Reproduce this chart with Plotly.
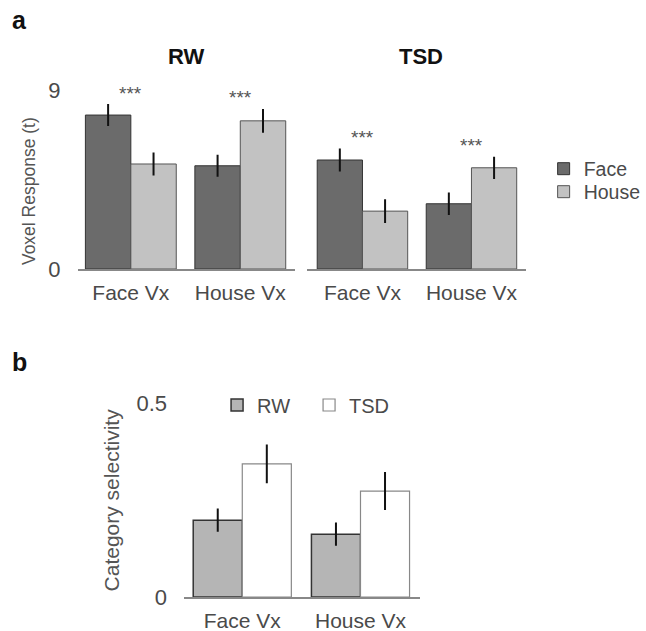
import plotly.graph_objects as go

# ---------------- data ----------------
vx_categories = ["Face Vx", "House Vx"]

# panel a: RW condition
rw_face = [7.74, 5.19]
rw_face_err = [0.55, 0.55]
rw_house = [5.28, 7.45]
rw_house_err = [0.58, 0.60]

# panel a: TSD condition
tsd_face = [5.48, 3.28]
tsd_face_err = [0.58, 0.57]
tsd_house = [2.91, 5.09]
tsd_house_err = [0.60, 0.56]

# panel b: category selectivity
sel_rw = [0.198, 0.162]
sel_rw_err = [0.030, 0.030]
sel_tsd = [0.343, 0.273]
sel_tsd_err = [0.050, 0.049]

a_ticks = [0, 9]
b_ticks = [0, 0.5]
b_tick_text = ["0", "0.5"]

# ---------------- style ----------------
W, H = 646, 631
FONT = "Liberation Sans, Arial, sans-serif"
DARK = "#6b6b6b"
LIGHT = "#c2c2c2"
B_GRAY = "#b5b5b5"
TXT = "#4a4a4a"


def fx(px):
    return px / W


def fy(py):
    return 1 - py / H


def err(vals):
    return dict(type="data", array=vals, visible=True, color="#111111", thickness=2, width=0)


fig = go.Figure()

# Panel a, RW
fig.add_trace(go.Bar(x=vx_categories, y=rw_face, error_y=err(rw_face_err), name="Face",
                     marker=dict(color=DARK, line=dict(color="#333333", width=1)),
                     xaxis="x", yaxis="y", legend="legend", legendgroup="face"))
fig.add_trace(go.Bar(x=vx_categories, y=rw_house, error_y=err(rw_house_err), name="House",
                     marker=dict(color=LIGHT, line=dict(color="#555555", width=1)),
                     xaxis="x", yaxis="y", legend="legend3", legendgroup="house"))
# Panel a, TSD
fig.add_trace(go.Bar(x=vx_categories, y=tsd_face, error_y=err(tsd_face_err), name="Face",
                     marker=dict(color=DARK, line=dict(color="#333333", width=1)),
                     xaxis="x2", yaxis="y2", showlegend=False, legendgroup="face"))
fig.add_trace(go.Bar(x=vx_categories, y=tsd_house, error_y=err(tsd_house_err), name="House",
                     marker=dict(color=LIGHT, line=dict(color="#555555", width=1)),
                     xaxis="x2", yaxis="y2", showlegend=False, legendgroup="house"))
# Panel b
fig.add_trace(go.Bar(x=vx_categories, y=sel_rw, error_y=err(sel_rw_err), name="RW",
                     marker=dict(color=B_GRAY, line=dict(color="#333333", width=1.5)),
                     xaxis="x3", yaxis="y3", legend="legend2"))
fig.add_trace(go.Bar(x=vx_categories, y=sel_tsd, error_y=err(sel_tsd_err), name="TSD",
                     marker=dict(color="#ffffff", line=dict(color="#888888", width=1.2)),
                     xaxis="x3", yaxis="y3", legend="legend2"))

xcommon = dict(type="category", showline=True, linecolor="#888888", linewidth=1.5,
               showgrid=False, zeroline=False, ticks="", fixedrange=True, automargin=False,
               ticklabelstandoff=4, tickfont=dict(family=FONT, size=21, color=TXT))
ycommon = dict(showline=False, showgrid=False, zeroline=False, fixedrange=True,
               automargin=False, tickfont=dict(family=FONT, size=22, color=TXT))

legend_font_a = dict(family=FONT, size=19.5, color=TXT)

fig.update_layout(
    template="none",
    width=W, height=H, autosize=False,
    margin=dict(l=0, r=0, t=0, b=0, pad=0),
    paper_bgcolor="white", plot_bgcolor="white",
    barmode="group", bargap=0.17, bargroupgap=0,
    font=dict(family=FONT, color=TXT),
    xaxis=dict(domain=[fx(80), fx(304)], range=[-0.487, 1.496], anchor="y", **xcommon),
    xaxis2=dict(domain=[fx(317), fx(543)], range=[-0.507, 1.502], anchor="y2", **xcommon),
    xaxis3=dict(domain=[fx(190), fx(433)], range=[-0.492, 1.5], anchor="y3", **xcommon),
    yaxis=dict(domain=[fy(269), fy(90)], range=[0, 9], tickvals=a_ticks,
               ticklabelstandoff=16, anchor="x", **ycommon),
    yaxis2=dict(domain=[fy(269), fy(90)], range=[0, 9], showticklabels=False,
                anchor="x2", **ycommon),
    yaxis3=dict(domain=[fy(597), fy(403)], range=[0, 0.5], tickvals=b_ticks,
                ticktext=b_tick_text, ticklabelstandoff=16, anchor="x3", **ycommon),
    legend=dict(x=fx(561), y=fy(169), xanchor="left", yanchor="middle",
                font=legend_font_a, bgcolor="rgba(0,0,0,0)"),
    legend3=dict(x=fx(561), y=fy(192), xanchor="left", yanchor="middle",
                 font=legend_font_a, bgcolor="rgba(0,0,0,0)"),
    legend2=dict(x=fx(224), y=fy(405), xanchor="left", yanchor="middle", orientation="h",
                 entrywidth=47, entrywidthmode="pixels",
                 font=dict(family=FONT, size=20, color=TXT), bgcolor="rgba(0,0,0,0)"),
    showlegend=True,
)

ann = []


def paper_text(text, px, py, size, color, angle=0):
    ann.append(dict(text=text, x=fx(px), y=fy(py), xref="paper", yref="paper",
                    xanchor="center", yanchor="middle", showarrow=False, textangle=angle,
                    font=dict(family=FONT, size=size, color=color)))


# panel letters
paper_text("<b>a</b>", 20, 20, 25, "#111111")
paper_text("<b>b</b>", 20, 362, 25, "#111111")
# subplot titles
paper_text("<b>RW</b>", 192, 57, 22, "#111111")
paper_text("<b>TSD</b>", 434, 57, 22, "#111111")
# axis titles
paper_text("Voxel Response (t)", 30, 191, 17.5, "#555555", -90)
paper_text("Category selectivity", 115, 500, 21, "#555555", -90)

# significance stars
for xa, ya, f, fe, h, he in [("x", "y", rw_face, rw_face_err, rw_house, rw_house_err),
                             ("x2", "y2", tsd_face, tsd_face_err, tsd_house, tsd_house_err)]:
    for i, cat in enumerate(vx_categories):
        top = max(f[i] + fe[i], h[i] + he[i])
        ann.append(dict(text="***", x=i, y=top + 0.55, xref=xa, yref=ya, showarrow=False,
                        xanchor="center", yanchor="middle",
                        font=dict(family=FONT, size=19, color="#555555")))

fig.update_layout(annotations=ann)

fig.write_html("out.html", config={"displayModeBar": False},
               post_script="document.body.style.margin='0';document.body.style.padding='0';")
